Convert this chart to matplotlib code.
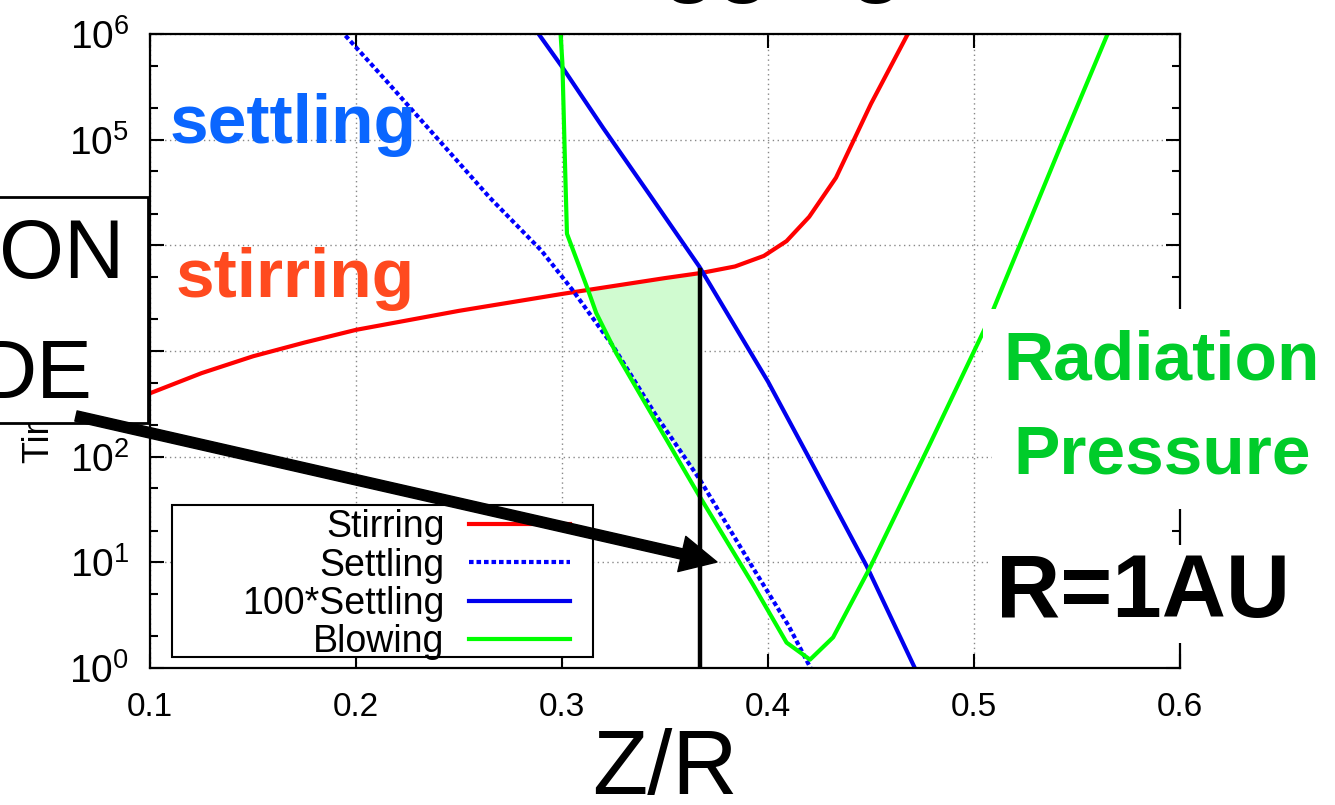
import numpy as np
import matplotlib.pyplot as plt
from matplotlib import ticker
from matplotlib.patches import Rectangle, FancyArrowPatch

plt.rcParams['font.family'] = ['Liberation Sans', 'DejaVu Sans']

# Stirring timescale vs Z/R
stir_z = [0.100, 0.125, 0.150, 0.175, 0.200, 0.250, 0.300, 0.350, 0.368,
          0.384, 0.398, 0.409, 0.420, 0.433, 0.450, 0.470]
stir_t = [398, 617, 891, 1202, 1585, 2399, 3467, 4898, 5495,
          6310, 7943, 10965, 18621, 43652, 218776, 1.2e6]

# Settling timescale
settle_z = [0.190, 0.215, 0.240, 0.265, 0.290, 0.305, 0.325, 0.345, 0.367,
            0.392, 0.410, 0.422]
settle_t = [1.23e6, 354813, 1.0e5, 28184, 8913, 3802, 1096, 257, 60.3,
            9.33, 2.51, 0.89]

# 100*Settling
settle100_z = [0.285, 0.300, 0.320, 0.3425, 0.3666, 0.400, 0.4196, 0.448, 0.4725]
settle100_t = [1.26e6, 489779, 128825, 30200, 6310, 513, 100, 9.12, 0.89]

# Blowing (radiation pressure)
blow_z = [0.2990, 0.3002, 0.3015, 0.3024, 0.3126, 0.3166, 0.3263, 0.3376,
          0.3666, 0.3924, 0.4090, 0.4204, 0.4316, 0.4495, 0.4786, 0.5074,
          0.5433, 0.5670]
blow_t = [1.26e6, 524807, 54954, 12882, 3802, 2291, 955, 398,
          42.7, 6.31, 1.74, 1.20, 1.95, 8.9, 132, 1995,
          1.0e5, 1.26e6]

cross_z = 0.367
cross_t = 5900

fig = plt.figure(figsize=(13.35, 8.05), dpi=100)
ax = fig.add_axes([0.11236, 0.17019, 0.77154, 0.78758])

# shaded region between blowing/settling and stirring, up to the crossing
zz = np.linspace(0.30, cross_z, 400)
upper = 10 ** np.interp(zz, stir_z, np.log10(stir_t))
lower = 10 ** np.maximum(np.interp(zz, blow_z, np.log10(blow_t)),
                         np.interp(zz, settle_z, np.log10(settle_t)))
ax.fill_between(zz, lower, upper, where=upper > lower, interpolate=True,
                color='#d0fbd0', lw=0, zorder=1)

ax.plot(stir_z, stir_t, color='#ff0000', lw=3, label='Stirring')
ax.plot(settle_z, settle_t, color='#0000ff', lw=3, dashes=(1.1, 0.7), label='Settling')
ax.plot(settle100_z, settle100_t, color='#0000ee', lw=3, label='100*Settling')
ax.plot(blow_z, blow_t, color='#00ff00', lw=3, label='Blowing')
ax.plot([cross_z, cross_z], [1, cross_t], color='black', lw=3.2, zorder=4)

ax.set_yscale('log')
ax.set_xlim(0.1, 0.6)
ax.set_ylim(1, 1e6)
ax.xaxis.set_major_locator(ticker.MultipleLocator(0.1))
ax.yaxis.set_major_locator(ticker.LogLocator(base=10, numticks=10))
ax.yaxis.set_minor_locator(ticker.LogLocator(base=10, subs=(2, 5), numticks=10))
ax.yaxis.set_minor_formatter(ticker.NullFormatter())
ax.tick_params(which='both', direction='in', top=True, right=True, width=1.5)
ax.tick_params(which='major', length=10, pad=16)
ax.tick_params(axis='x', which='major', labelsize=24, pad=17)
ax.tick_params(axis='y', which='major', labelsize=28, pad=15)
ax.tick_params(which='minor', length=6)
for s in ax.spines.values():
    s.set_linewidth(1.6)
ax.grid(True, which='major', color='#888888', linestyle=(0, (1, 2.5)), lw=1)
ax.set_axisbelow(True)

ax.set_xlabel('Z/R', fontsize=65)
ax.xaxis.set_label_coords(0.5, -0.095)
ax.set_ylabel('Timescale [yr]', fontsize=26)
ax.yaxis.set_label_coords(-0.09, 0.5)

# legend with gnuplot-like frame
ax.add_patch(Rectangle((0.0214, 0.0174), 0.409, 0.24, transform=ax.transAxes,
                       fc='white', ec='black', lw=1.5, zorder=4.5))
leg = ax.legend(loc='lower right', bbox_to_anchor=(0.4078, 0.0126), frameon=False,
                markerfirst=False, handlelength=2.7, handletextpad=0.65,
                labelspacing=0.06, borderpad=0, borderaxespad=0, fontsize=27)
leg.set_zorder(5)

# annotations
ax.text(0.0194, 0.828, 'settling', transform=ax.transAxes, fontsize=50,
        fontweight='bold', color='#0a66ff', va='baseline')
ax.text(0.0252, 0.585, 'stirring', transform=ax.transAxes, fontsize=50,
        fontweight='bold', color='#ff4a1f', va='baseline')
ax.text(0.9825, (668 - 380) / 634, 'Radiation', transform=ax.transAxes,
        fontsize=50, fontweight='bold', color='#00cc2a', ha='center', va='baseline',
        bbox=dict(boxstyle='square,pad=0.3', fc='white', ec='none'), zorder=6)
ax.text(0.9825, (668 - 474) / 634, 'Pressure', transform=ax.transAxes,
        fontsize=50, fontweight='bold', color='#00cc2a', ha='center', va='baseline',
        bbox=dict(boxstyle='square,pad=0.3', fc='white', ec='none'), zorder=6)
ax.text((996 - 150) / 1030, (668 - 617) / 634, 'R=1AU', transform=ax.transAxes,
        fontsize=64, fontweight='bold', color='black', ha='left', va='baseline',
        bbox=dict(boxstyle='square,pad=0.08', fc='white', ec='none'), zorder=6)

# cut-off title at the top
fig.text(0.385, 1 + 15 / 805, 'Dragging', fontsize=64, fontweight='bold',
         va='baseline')

# overlapping box at left
fig.add_artist(Rectangle((-0.01, 1 - 423 / 805), 148 / 1335 + 0.01, 226 / 805,
                         transform=fig.transFigure, fc='white', ec='black',
                         lw=2, zorder=5))
fig.text(124 / 1335, 1 - 278 / 805, 'ON', fontsize=60, ha='right',
         va='baseline', zorder=6)
fig.text(92 / 1335, 1 - 398 / 805, 'DE', fontsize=60, ha='right',
         va='baseline', zorder=6)

arrow = FancyArrowPatch((76 / 1335, 1 - 416 / 805), (717 / 1335, 1 - 562 / 805),
                        transform=fig.transFigure,
                        arrowstyle='simple,head_length=2.6,head_width=2.6,tail_width=0.75',
                        mutation_scale=10, color='black', shrinkA=0, shrinkB=0,
                        zorder=10)
fig.add_artist(arrow)

fig.savefig('out.png', dpi=100)
